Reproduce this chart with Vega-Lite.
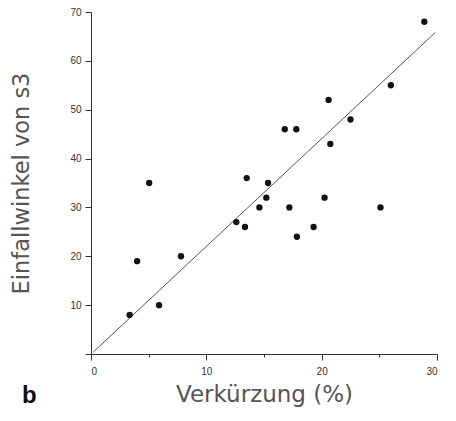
{
  "$schema": "https://vega.github.io/schema/vega-lite/v6.json",
  "width": 346,
  "height": 342,
  "autosize": "none",
  "padding": {"left": 91, "top": 12, "right": 19, "bottom": 67},
  "background": "white",
  "title": {"text": "b", "orient": "bottom", "anchor": "start", "frame": "group", "dx": -69, "offset": -22, "fontSize": 24, "fontWeight": "bold", "font": "Liberation Sans", "color": "#111"},
  "config": {"view": {"stroke": null}},
  "datasets": {
    "pts": [
      {"v": 3.35, "e": 8}, {"v": 4.0, "e": 19}, {"v": 5.05, "e": 35}, {"v": 5.9, "e": 10},
      {"v": 7.8, "e": 20}, {"v": 12.6, "e": 27}, {"v": 13.35, "e": 26}, {"v": 13.5, "e": 36},
      {"v": 14.6, "e": 30}, {"v": 15.2, "e": 32}, {"v": 15.35, "e": 35}, {"v": 16.8, "e": 46},
      {"v": 17.2, "e": 30}, {"v": 17.8, "e": 46}, {"v": 17.85, "e": 24}, {"v": 19.3, "e": 26},
      {"v": 20.25, "e": 32}, {"v": 20.6, "e": 52}, {"v": 20.75, "e": 43}, {"v": 22.5, "e": 48},
      {"v": 25.1, "e": 30}, {"v": 26.0, "e": 55}, {"v": 28.9, "e": 68}
    ],
    "fit": [{"v": 0.2, "e": 0.4}, {"v": 29.85, "e": 65.8}]
  },
  "layer": [
    {
      "data": {"name": "fit"},
      "mark": {"type": "line", "color": "#555", "strokeWidth": 1},
      "encoding": {
        "x": {"field": "v", "type": "quantitative", "scale": {"domain": [0, 30], "nice": false}},
        "y": {"field": "e", "type": "quantitative", "scale": {"domain": [0, 70], "nice": false}}
      }
    },
    {
      "data": {"name": "pts"},
      "mark": {"type": "point", "filled": true, "color": "#111", "opacity": 1, "size": 40},
      "encoding": {
        "x": {"field": "v", "type": "quantitative",
          "axis": {"title": "Verkürzung (%)", "values": [0, 5, 10, 15, 20, 25, 30], "grid": false,
            "labelExpr": "datum.value % 10 === 0 ? datum.label : ''",
            "tickSize": {"condition": {"test": "datum.value % 10 === 0", "value": 6}, "value": 3},
            "domainColor": "#333", "tickColor": "#333", "labelColor": "#333", "labelFontSize": 10, "labelFont": "Liberation Sans",
            "labelPadding": 6, "titleFontSize": 23, "titleFontWeight": "normal", "titleFont": "DejaVu Sans", "titleColor": "#555", "titlePadding": 7}},
        "y": {"field": "e", "type": "quantitative",
          "axis": {"title": "Einfallwinkel von s3", "values": [0, 5, 10, 15, 20, 25, 30, 35, 40, 45, 50, 55, 60, 65, 70], "grid": false,
            "labelExpr": "datum.value % 10 === 0 && datum.value > 0 ? datum.label : ''",
            "tickSize": {"condition": {"test": "datum.value % 10 === 0", "value": 6}, "value": 3},
            "domainColor": "#333", "tickColor": "#333", "labelColor": "#333", "labelFontSize": 10, "labelFont": "Liberation Sans",
            "labelPadding": 4, "titleFontSize": 22.5, "titleFontWeight": "normal", "titleFont": "DejaVu Sans", "titleColor": "#555", "titlePadding": 36}}
      }
    }
  ]
}
